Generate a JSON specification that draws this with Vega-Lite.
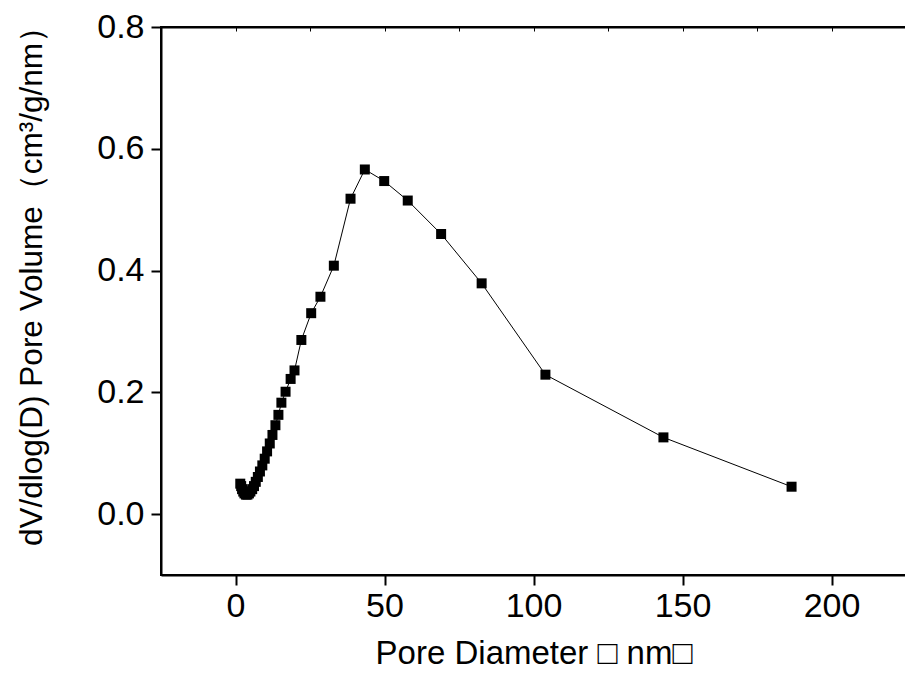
{
  "$schema": "https://vega.github.io/schema/vega-lite/v6.json",
  "width": 745,
  "height": 548,
  "autosize": {"type": "none"},
  "padding": {"left": 161, "top": 27, "right": 0, "bottom": 100},
  "background": "white",
  "config": {
    "view": {"stroke": "black", "strokeWidth": 2},
    "axis": {
      "grid": false,
      "labelFont": "Liberation Sans",
      "titleFont": "Liberation Sans",
      "labelFontSize": 34,
      "titleFontSize": 33,
      "titleFontWeight": "normal",
      "labelColor": "black",
      "titleColor": "black",
      "domainColor": "black",
      "domainWidth": 2,
      "tickColor": "black",
      "tickWidth": 2,
      "tickSize": 10,
      "labelPadding": 4
    }
  },
  "data": {
    "values": [
      {"d": 1.6, "v": 0.050},
      {"d": 1.9, "v": 0.046},
      {"d": 2.2, "v": 0.041},
      {"d": 2.6, "v": 0.037},
      {"d": 3.0, "v": 0.034},
      {"d": 3.5, "v": 0.032},
      {"d": 4.0, "v": 0.032},
      {"d": 4.5, "v": 0.034},
      {"d": 5.0, "v": 0.037},
      {"d": 5.6, "v": 0.041},
      {"d": 6.2, "v": 0.046},
      {"d": 6.8, "v": 0.053},
      {"d": 7.5, "v": 0.061},
      {"d": 8.2, "v": 0.070},
      {"d": 9.0, "v": 0.080},
      {"d": 9.8, "v": 0.091},
      {"d": 10.6, "v": 0.103},
      {"d": 11.5, "v": 0.116},
      {"d": 12.4, "v": 0.130},
      {"d": 13.4, "v": 0.146},
      {"d": 14.4, "v": 0.163},
      {"d": 15.4, "v": 0.183},
      {"d": 16.8, "v": 0.201},
      {"d": 18.5, "v": 0.222},
      {"d": 19.8, "v": 0.236},
      {"d": 22.1, "v": 0.286},
      {"d": 25.4, "v": 0.330},
      {"d": 28.5, "v": 0.357},
      {"d": 33.0, "v": 0.408},
      {"d": 38.6, "v": 0.518},
      {"d": 43.4, "v": 0.566},
      {"d": 49.9, "v": 0.547},
      {"d": 57.8, "v": 0.515},
      {"d": 69.0, "v": 0.460},
      {"d": 82.6, "v": 0.379},
      {"d": 104.0, "v": 0.229},
      {"d": 143.6, "v": 0.126},
      {"d": 186.6, "v": 0.045}
    ]
  },
  "resolve": {"axis": {"x": "independent"}},
  "layer": [
    {
      "mark": {"type": "line", "color": "black", "strokeWidth": 1, "clip": true},
      "encoding": {
        "x": {
          "field": "d", "type": "quantitative",
          "scale": {"domain": [-25, 225], "nice": false, "zero": false},
          "axis": {"orient": "bottom", "values": [0, 50, 100, 150, 200], "title": "Pore Diameter □ nm□", "titlePadding": 14}
        },
        "y": {
          "field": "v", "type": "quantitative",
          "scale": {"domain": [-0.1, 0.8], "nice": false, "zero": false},
          "axis": {"values": [0, 0.2, 0.4, 0.6, 0.8], "format": ".1f", "labelPadding": 7, "title": "dV/dlog(D) Pore Volume（cm³/g/nm）", "titleFontSize": 31.5, "titleX": -113, "titleY": 251, "titleAlign": "center"}
        },
        "order": {"field": "d", "type": "quantitative"}
      }
    },
    {
      "mark": {"type": "point", "shape": "square", "filled": true, "size": 100, "color": "black", "opacity": 1, "clip": true},
      "encoding": {
        "x": {
          "field": "d", "type": "quantitative",
          "scale": {"domain": [-25, 225], "nice": false, "zero": false},
          "axis": {"orient": "top", "values": [-25, 0, 25, 50, 75, 100, 125, 150, 175, 200, 225], "labels": false, "tickSize": -4, "tickWidth": 1, "title": null}
        },
        "y": {"field": "v", "type": "quantitative"}
      }
    }
  ]
}
